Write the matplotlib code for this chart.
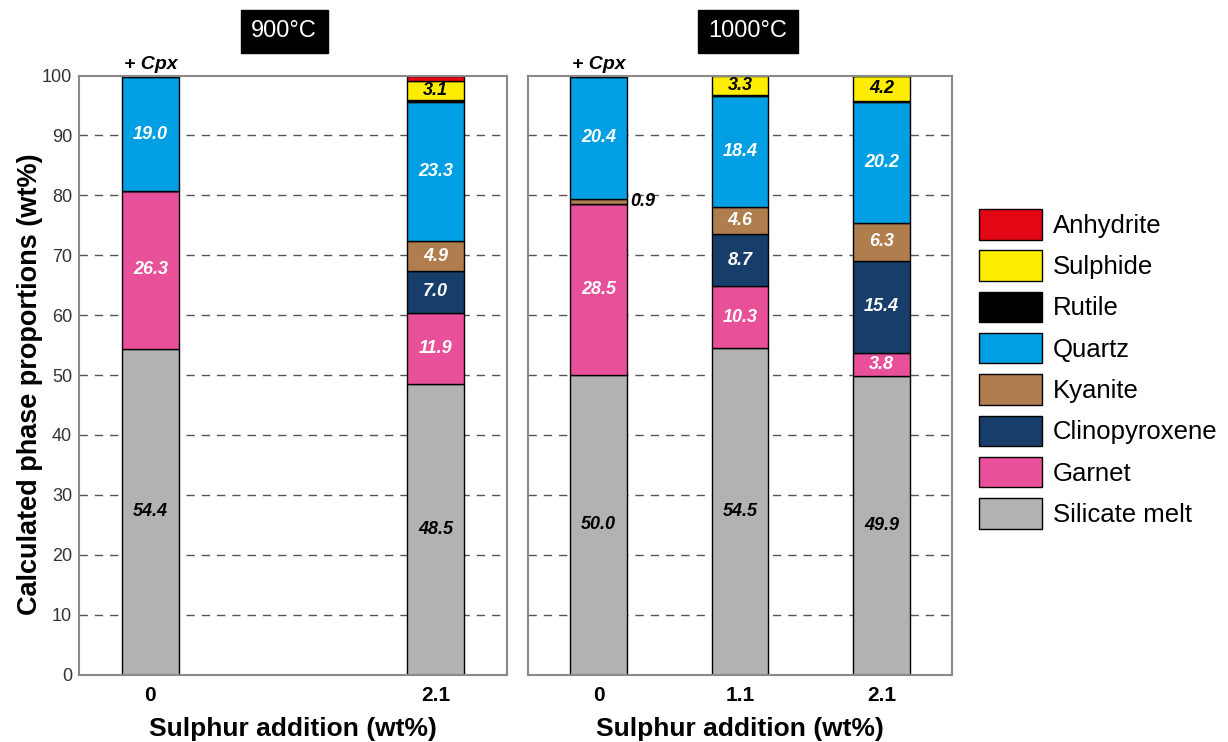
import matplotlib
matplotlib.use("Agg")
import matplotlib.pyplot as plt
from matplotlib.patches import Patch

plt.rcParams['font.family'] = ['Liberation Sans', 'DejaVu Sans']

phases = ["Silicate melt", "Garnet", "Clinopyroxene", "Kyanite", "Quartz", "Rutile", "Sulphide", "Anhydrite"]
colors = ["#B2B2B2", "#E8509A", "#173D6B", "#B07D4F", "#009FE3", "#000000", "#FFED00", "#E30613"]
label_colors = ["black", "white", "white", "white", "white", None, "black", None]

# 900 °C
s900_labels = ["0", "2.1"]
s900 = {
    "Silicate melt": [54.4, 48.5],
    "Garnet":        [26.3, 11.9],
    "Clinopyroxene": [0.0, 7.0],
    "Kyanite":       [0.0, 4.9],
    "Quartz":        [19.0, 23.3],
    "Rutile":        [0.3, 0.3],
    "Sulphide":      [0.0, 3.1],
    "Anhydrite":     [0.0, 1.0],
}
# 1000 °C
s1000_labels = ["0", "1.1", "2.1"]
s1000 = {
    "Silicate melt": [50.0, 54.5, 49.9],
    "Garnet":        [28.5, 10.3, 3.8],
    "Clinopyroxene": [0.0, 8.7, 15.4],
    "Kyanite":       [0.9, 4.6, 6.3],
    "Quartz":        [20.4, 18.4, 20.2],
    "Rutile":        [0.2, 0.2, 0.2],
    "Sulphide":      [0.0, 3.3, 4.2],
    "Anhydrite":     [0.0, 0.0, 0.0],
}
s900_positions = [0, 2]
s1000_positions = [0, 1, 2]

W, H = 1228, 742
fig = plt.figure(figsize=(W / 100, H / 100), dpi=100)

def px_axes(x0, y0, x1, y1):
    return fig.add_axes([x0 / W, 1 - y1 / H, (x1 - x0) / W, (y1 - y0) / H])

axL = px_axes(79, 75.5, 507, 674.5)
axR = px_axes(528, 75.5, 952, 674.5)

def draw_panel(ax, positions, labels, data, title, title_x, show_y):
    ax.set_xlim(-0.5, 2.5)
    ax.set_ylim(0, 100)
    for yv in range(10, 100, 10):
        ax.axhline(yv, color="#555555", lw=1.0, ls=(0, (6, 5)), zorder=0)
    bottoms = [0.0] * len(positions)
    for ph, col, lc in zip(phases, colors, label_colors):
        vals = data[ph]
        ax.bar(positions, vals, width=0.40, bottom=bottoms, color=col,
               edgecolor="black", linewidth=1.0, zorder=2)
        for i, (p, v) in enumerate(zip(positions, vals)):
            if lc is not None and v > 0:
                if v < 2:
                    ax.text(p + 0.22, bottoms[i] + v / 2, f"{v:.1f}", ha="left", va="center",
                            fontsize=13, fontweight="bold", fontstyle="italic", color="black", zorder=3)
                else:
                    ax.text(p, bottoms[i] + v / 2, f"{v:.1f}", ha="center", va="center",
                            fontsize=13, fontweight="bold", fontstyle="italic", color=lc, zorder=3)
        bottoms = [b + v for b, v in zip(bottoms, vals)]
    ax.text(positions[0], 101.8, "+ Cpx", ha="center", va="center", fontsize=14,
            fontweight="bold", fontstyle="italic", clip_on=False)
    ax.set_xticks(positions)
    ax.set_xticklabels(labels, fontsize=15, fontweight="bold")
    ax.tick_params(axis="x", length=0, pad=8)
    if show_y:
        ax.set_yticks(range(0, 101, 10))
        ax.tick_params(axis="y", length=0, pad=5, labelsize=13, labelcolor="#333333")
    else:
        ax.set_yticks([])
    for sp in ax.spines.values():
        sp.set_color("#8a8a8a")
        sp.set_linewidth(1.5)
    ax.set_xlabel("Sulphur addition (wt%)", fontsize=19, fontweight="bold", labelpad=9)
    ax.text(title_x, 1.074, title, transform=ax.transAxes, ha="center", va="center",
            fontsize=17, color="white",
            bbox=dict(boxstyle="square,pad=0.45", facecolor="black", edgecolor="black"))

draw_panel(axL, s900_positions, s900_labels, s900, "900°C", 0.479, True)
draw_panel(axR, s1000_positions, s1000_labels, s1000, "1000°C", 0.519, False)

fig.text(30 / W, 1 - 384 / H, "Calculated phase proportions (wt%)", rotation=90,
         ha="center", va="center", fontsize=19.5, fontweight="bold")

handles = [Patch(facecolor=c, edgecolor="black", linewidth=1.0) for c in colors]
order = list(range(len(phases)))[::-1]
fig.legend([handles[i] for i in order], [phases[i] for i in order],
           loc="upper left", bbox_to_anchor=(979 / W, 1 - 209 / H), frameon=False,
           fontsize=18.5, handlelength=2.45, handleheight=1.45, labelspacing=0.42,
           handletextpad=0.43, borderpad=0, borderaxespad=0)

fig.savefig("out.png", dpi=100)
